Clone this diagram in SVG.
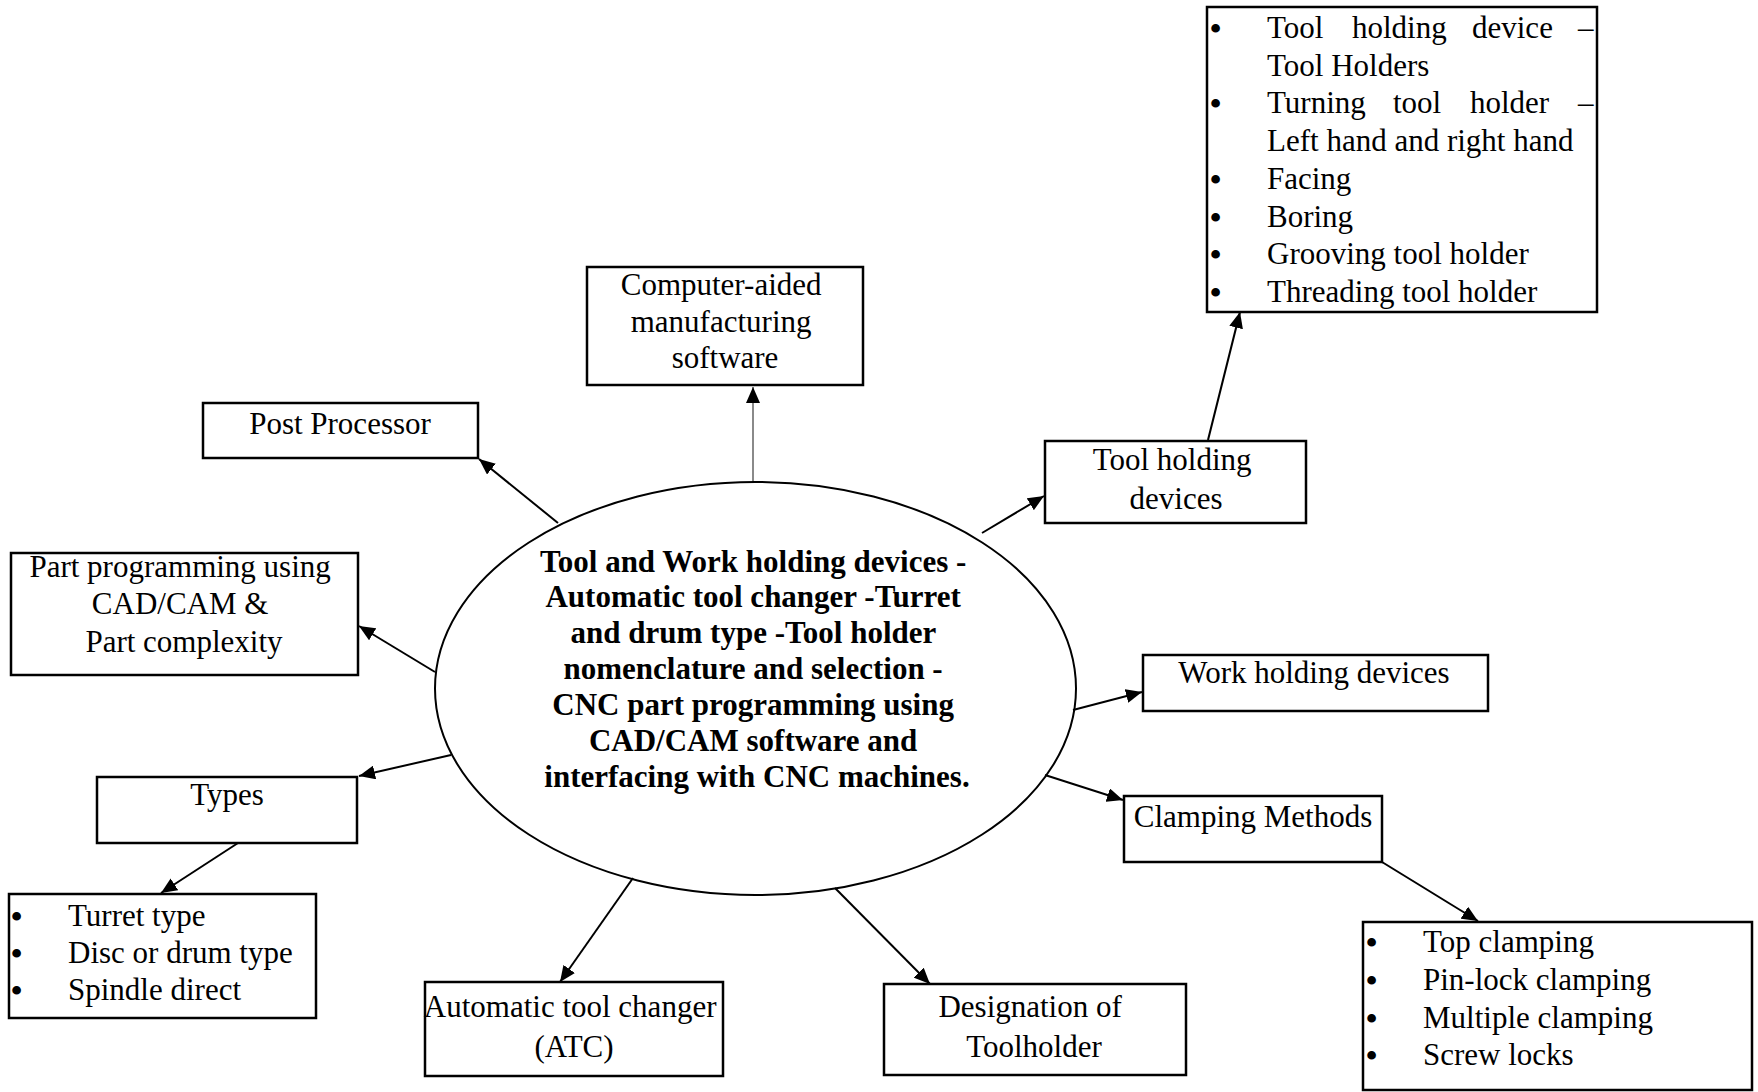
<svg xmlns="http://www.w3.org/2000/svg" width="1758" height="1092" viewBox="0 0 1758 1092">
<style>
.box{fill:#fff;stroke:#000;stroke-width:2.5}
.t{font-family:"Liberation Serif","Times New Roman",serif;font-size:31px;fill:#000}
.c{text-anchor:middle}
.b{font-weight:bold}
.bul{font-size:32px;font-weight:bold}
.conn{stroke:#000;stroke-width:2;fill:none;marker-end:url(#ah)}
.gray{stroke:#8a8a8a}
</style>
<defs>
<marker id="ah" markerUnits="userSpaceOnUse" markerWidth="18" markerHeight="14" refX="16" refY="7" orient="auto">
<path d="M0,0 L16,7 L0,14 z" fill="#000"/>
</marker>
</defs>
<rect width="1758" height="1092" fill="#fff"/>

<g id="connectors">
<line class="conn gray" x1="753" y1="482" x2="753" y2="387"/>
<line class="conn" x1="558" y1="523" x2="479" y2="459"/>
<line class="conn" x1="435" y1="672" x2="359" y2="626"/>
<line class="conn" x1="451" y1="755" x2="359" y2="776"/>
<line class="conn" x1="238" y1="843" x2="161" y2="893"/>
<line class="conn" x1="633" y1="878" x2="560" y2="982"/>
<line class="conn" x1="835" y1="888" x2="930" y2="984"/>
<line class="conn" x1="1045" y1="775" x2="1123" y2="800"/>
<line class="conn" x1="1382" y1="862" x2="1478" y2="921"/>
<line class="conn" x1="1073" y1="710" x2="1142" y2="692"/>
<line class="conn" x1="982" y1="533" x2="1044" y2="496"/>
<line class="conn" x1="1208" y1="440" x2="1240" y2="312"/>
</g>

<g id="center">
<ellipse cx="755.5" cy="688.5" rx="320.5" ry="206.5" fill="none" stroke="#000" stroke-width="2"/>
<text class="t c b" x="757">
<tspan x="757" y="571.5">Tool and Work holding devices -</tspan>
<tspan x="757" y="607.3">Automatic tool changer -Turret</tspan>
<tspan x="757" y="643.2">and drum type -Tool holder</tspan>
<tspan x="757" y="679">nomenclature and selection -</tspan>
<tspan x="757" y="714.9">CNC part programming using</tspan>
<tspan x="757" y="750.7">CAD/CAM software and</tspan>
<tspan x="757" y="786.6">interfacing with CNC machines.</tspan>
</text>
</g>

<g id="tool-holders-list">
<rect class="box" x="1207" y="7" width="390" height="305"/>
<text class="t">
<tspan class="bul" x="1210" y="39">•</tspan><tspan x="1267" y="38">Tool</tspan><tspan x="1352" y="38">holding</tspan><tspan x="1472" y="38">device</tspan><tspan x="1578" y="38">–</tspan>
<tspan x="1267" y="75.7">Tool Holders</tspan>
<tspan class="bul" x="1210" y="114.4">•</tspan><tspan x="1267" y="113.4">Turning</tspan><tspan x="1393" y="113.4">tool</tspan><tspan x="1470" y="113.4">holder</tspan><tspan x="1578" y="113.4">–</tspan>
<tspan x="1267" y="151.1">Left hand and right hand</tspan>
<tspan class="bul" x="1210" y="189.8">•</tspan><tspan x="1267" y="188.8">Facing</tspan>
<tspan class="bul" x="1210" y="227.5">•</tspan><tspan x="1267" y="226.5">Boring</tspan>
<tspan class="bul" x="1210" y="265.2">•</tspan><tspan x="1267" y="264.2">Grooving tool holder</tspan>
<tspan class="bul" x="1210" y="303">•</tspan><tspan x="1267" y="302">Threading tool holder</tspan>
</text>
</g>

<g id="cam-software">
<rect class="box" x="587" y="267" width="276" height="118"/>
<text class="t c">
<tspan x="725" y="295">Computer-aided</tspan>
<tspan x="725" y="332">manufacturing</tspan>
<tspan x="725" y="368">software</tspan>
</text>
</g>

<g id="post-processor">
<rect class="box" x="203" y="403" width="275" height="55"/>
<text class="t c" x="340" y="434">Post Processor</text>
</g>

<g id="part-programming">
<rect class="box" x="11" y="553" width="347" height="122"/>
<text class="t c">
<tspan x="184" y="577">Part programming using</tspan>
<tspan x="184" y="614">CAD/CAM &amp;</tspan>
<tspan x="184" y="652">Part complexity</tspan>
</text>
</g>

<g id="tool-holding-devices">
<rect class="box" x="1045" y="441" width="261" height="82"/>
<text class="t c">
<tspan x="1176" y="470">Tool holding</tspan>
<tspan x="1176" y="509">devices</tspan>
</text>
</g>

<g id="work-holding-devices">
<rect class="box" x="1143" y="655" width="345" height="56"/>
<text class="t c" x="1314" y="683">Work holding devices</text>
</g>

<g id="types">
<rect class="box" x="97" y="777" width="260" height="66"/>
<text class="t c" x="227" y="805">Types</text>
</g>

<g id="clamping-methods">
<rect class="box" x="1124" y="796" width="258" height="66"/>
<text class="t c" x="1253" y="827">Clamping Methods</text>
</g>

<g id="types-list">
<rect class="box" x="9" y="894" width="307" height="124"/>
<text class="t">
<tspan class="bul" x="11" y="926.5">•</tspan><tspan x="68" y="925.5">Turret type</tspan>
<tspan class="bul" x="11" y="963.5">•</tspan><tspan x="68" y="962.5">Disc or drum type</tspan>
<tspan class="bul" x="11" y="1000.5">•</tspan><tspan x="68" y="999.5">Spindle direct</tspan>
</text>
</g>

<g id="atc">
<rect class="box" x="425" y="982" width="298" height="94"/>
<text class="t c">
<tspan x="574" y="1017">Automatic tool changer</tspan>
<tspan x="574" y="1057">(ATC)</tspan>
</text>
</g>

<g id="designation">
<rect class="box" x="884" y="984" width="302" height="91"/>
<text class="t c">
<tspan x="1034" y="1017">Designation of</tspan>
<tspan x="1034" y="1057">Toolholder</tspan>
</text>
</g>

<g id="clamping-list">
<rect class="box" x="1363" y="922" width="389" height="168"/>
<text class="t">
<tspan class="bul" x="1366" y="952.7">•</tspan><tspan x="1423" y="951.7">Top clamping</tspan>
<tspan class="bul" x="1366" y="991">•</tspan><tspan x="1423" y="990">Pin-lock clamping</tspan>
<tspan class="bul" x="1366" y="1029">•</tspan><tspan x="1423" y="1028">Multiple clamping</tspan>
<tspan class="bul" x="1366" y="1066">•</tspan><tspan x="1423" y="1065">Screw locks</tspan>
</text>
</g>
</svg>
